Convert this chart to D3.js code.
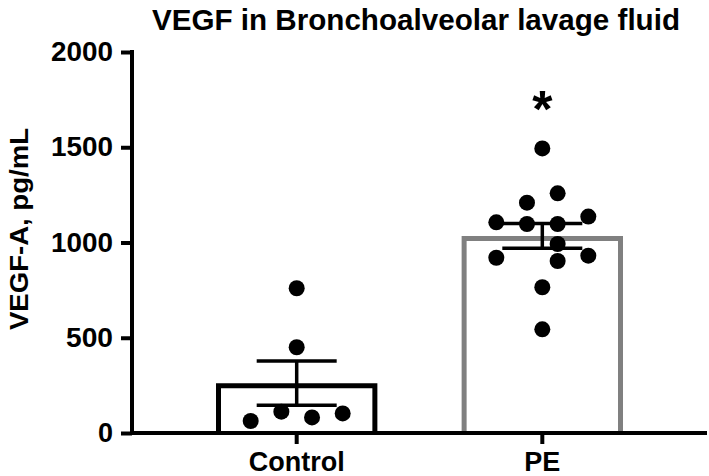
<!DOCTYPE html>
<html><head><meta charset="utf-8">
<script src="https://cdn.jsdelivr.net/npm/d3@7"></script>
<style>
body{margin:0;background:#fff}
text{font-family:"Liberation Sans",Arial,Helvetica,sans-serif;font-weight:bold;fill:#000}
</style>
</head><body>
<svg id="chart" width="709" height="476"></svg>
<script>
// ---- data ----
const categories = ["Control", "PE"];
const controlValues = [760, 450, 63, 112, 82, 103];
const peValues = [1494, 1258, 1209, 1106, 1097, 1097, 1136, 992, 920, 903, 931, 765, 544];
// column-scatter slot of each point (Prism-style arrangement)
const controlSlots = [0, 0, -3, -1, 1, 3];
const peSlots = [0, 1, -1, -3, -1, 1, 3, 1, -3, 1, 3, 0, 0];
const yTicks = [0, 500, 1000, 1500, 2000];
const significance = ["", "*"];
const titleText = "VEGF in Bronchoalveolar lavage fluid";
const yLabelText = "VEGF-A, pg/mL";

// ---- build groups ----
const groups = [
  {name: categories[0], values: controlValues, slots: controlSlots, color: "#000000", sig: significance[0]},
  {name: categories[1], values: peValues, slots: peSlots, color: "#808080", sig: significance[1]}
];
groups.forEach(g => {
  g.mean = d3.mean(g.values);
  g.sem = d3.deviation(g.values) / Math.sqrt(g.values.length);
});

const svg = d3.select("#chart");
svg.append("rect").attr("width", 709).attr("height", 476).attr("fill", "#fff");

const y = d3.scaleLinear().domain([0, 2000]).range([433, 52]);
const x = d3.scaleBand().domain(categories).range([132, 707]).paddingInner(0.343).paddingOuter(0.342);
const slot = d3.scaleLinear().domain([-3, 3]).range([-46, 46]);
const bw = x.bandwidth();
const sw = 5;

// bars
svg.append("g").selectAll("path").data(groups).join("path")
  .attr("d", g => {
    const x0 = x(g.name) + sw / 2, x1 = x(g.name) + bw - sw / 2;
    const yt = y(g.mean) + sw / 2, yb = y(0);
    return `M${x0},${yb}V${yt}H${x1}V${yb}`;
  })
  .attr("fill", "#fff")
  .attr("stroke", g => g.color)
  .attr("stroke-width", sw)
  .attr("stroke-linejoin", "miter");

// error bars
const eb = svg.append("g").attr("stroke", "#000").attr("stroke-width", 3.5).attr("fill", "none");
groups.forEach(g => {
  const cx = x(g.name) + bw / 2;
  const hi = y(g.mean + g.sem), lo = y(g.mean - g.sem);
  eb.append("line").attr("x1", cx).attr("x2", cx).attr("y1", hi).attr("y2", lo);
  eb.append("line").attr("x1", cx - 40).attr("x2", cx + 40).attr("y1", hi).attr("y2", hi);
  eb.append("line").attr("x1", cx - 40).attr("x2", cx + 40).attr("y1", lo).attr("y2", lo);
});

// dots
groups.forEach(g => {
  const cx = x(g.name) + bw / 2;
  svg.append("g").selectAll("circle").data(g.values).join("circle")
    .attr("cx", (d, i) => cx + slot(g.slots[i]))
    .attr("cy", d => y(d))
    .attr("r", 8)
    .attr("fill", "#000");
});

// significance
svg.append("g").selectAll("text").data(groups.filter(g => g.sig)).join("text")
  .attr("x", g => x(g.name) + bw / 2)
  .attr("y", g => y(d3.max(g.values)) - 21)
  .attr("text-anchor", "middle")
  .style("font-size", "52px")
  .text(g => g.sig);

// axes
const yAxis = d3.axisLeft(y).tickValues(yTicks).tickFormat(d3.format("d"))
  .tickSize(11).tickSizeOuter(0).tickPadding(8);
const gy = svg.append("g").attr("transform", "translate(132,0)").call(yAxis);
const xAxis = d3.axisBottom(x).tickSize(11).tickSizeOuter(0).tickPadding(8);
const gx = svg.append("g").attr("transform", "translate(0,433)").call(xAxis);
[gy, gx].forEach(g => {
  g.select(".domain").attr("stroke", "#000").attr("stroke-width", 4).attr("stroke-linecap", "square");
  g.selectAll(".tick line").attr("stroke", "#000").attr("stroke-width", 4);
  g.selectAll(".tick text").style("font-size", "27px").style("font-weight", "bold")
    .style("font-family", '"Liberation Sans",Arial,Helvetica,sans-serif').attr("fill", "#000");
});
gy.selectAll(".tick text").filter(d => String(d).length === 4).attr("textLength", 62).attr("lengthAdjust", "spacingAndGlyphs");
gy.selectAll(".tick text").filter(d => String(d).length === 3).attr("textLength", 47).attr("lengthAdjust", "spacingAndGlyphs");
gy.select(".domain").attr("d", `M0,${y(0)}V${y(2000)}`);
gx.select(".domain").attr("d", `M132,0H705`);

// title
svg.append("text").attr("x", 416).attr("y", 30).attr("text-anchor", "middle")
  .style("font-size", "30px").attr("textLength", 528).attr("lengthAdjust", "spacingAndGlyphs")
  .text(titleText);

// y label
svg.append("text").attr("transform", "translate(28,229) rotate(-90)").attr("text-anchor", "middle")
  .style("font-size", "26px").attr("textLength", 202).attr("lengthAdjust", "spacingAndGlyphs")
  .text(yLabelText);
</script>
</body></html>
